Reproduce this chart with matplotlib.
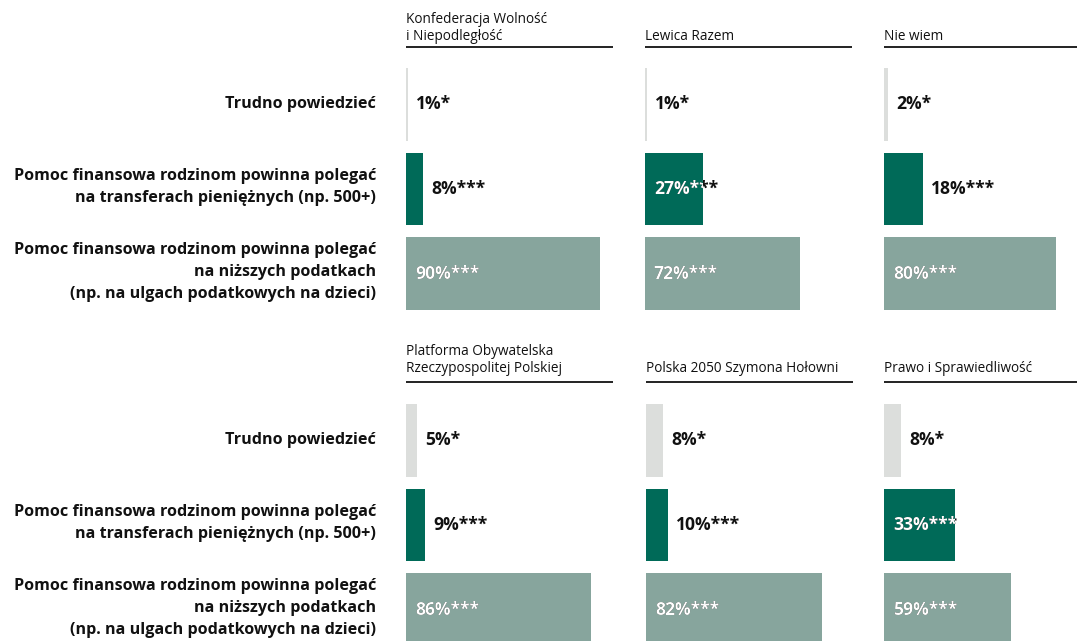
import matplotlib
matplotlib.use("Agg")
import matplotlib.pyplot as plt
from matplotlib.transforms import Bbox, TransformedBbox, offset_copy

plt.rcParams['font.family'] = ['Open Sans', 'DejaVu Sans']

parties = ["Konfederacja Wolność\ni Niepodległość", "Lewica Razem", "Nie wiem",
           "Platforma Obywatelska\nRzeczypospolitej Polskiej", "Polska 2050 Szymona Hołowni",
           "Prawo i Sprawiedliwość"]
categories = ["Trudno powiedzieć",
              "Pomoc finansowa rodzinom powinna polegać\nna transferach pieniężnych (np. 500+)",
              "Pomoc finansowa rodzinom powinna polegać\nna niższych podatkach\n(np. na ulgach podatkowych na dzieci)"]
trudno = [1, 1, 2, 5, 8, 8]
transfery = [8, 27, 18, 9, 10, 33]
podatki = [90, 72, 80, 86, 82, 59]
trudno_sig = ["*", "*", "*", "*", "*", "*"]
transfery_sig = ["***", "***", "***", "***", "***", "***"]
podatki_sig = ["***", "***", "***", "***", "***", "***"]

colors = ["#dcdedc", "#006a58", "#87a59d"]

W, H = 1077, 641
fig = plt.figure(figsize=(W / 100, H / 100), dpi=100)
fig.patch.set_facecolor("white")

col_left = [[406, 645, 884], [406, 646, 884]]
row_top = [68, 404]
ax_h = 242
ax_w = 215
scale = ax_w / 100.0
bar_h = 0.86

for i in range(6):
    r, c = divmod(i, 3)
    left = col_left[r][c]
    top = row_top[r]
    ax = fig.add_axes([left / W, (H - top - ax_h) / H, ax_w / W, ax_h / H])
    vals = [trudno[i], transfery[i], podatki[i]]
    sigs = [trudno_sig[i], transfery_sig[i], podatki_sig[i]]
    ypos = [0, 1, 2]
    ax.barh(ypos, vals, height=bar_h, color=colors, left=0, zorder=1)
    ax.set_xlim(0, 100)
    ax.set_ylim(2.43, -0.43)
    for s in ax.spines.values():
        s.set_visible(False)
    ax.set_xticks([])
    ax.set_yticks([])
    if c == 0:
        for y, cat in zip(ypos, categories):
            nl = cat.count("\n")
            tr = offset_copy(ax.get_yaxis_transform(), fig=fig, x=-30,
                             y=1.5 if nl else 0, units="dots")
            ax.text(0, y, cat, transform=tr, ha="right", va="center", fontsize=11.6,
                    fontweight="bold", color="#111111", linespacing=1.5)
    for y, v, s in zip(ypos, vals, sigs):
        label = f"{v}%{s}"
        if v >= 20:
            ax.text(9 / scale, y, label, color="#111111", fontsize=12.6, fontweight="bold",
                    va="center", ha="left", zorder=2)
            t = ax.text(9 / scale, y, label, color="white", fontsize=12.6, fontweight="bold",
                        va="center", ha="left", zorder=3)
            t.set_clip_path(None)
            t.set_clip_box(TransformedBbox(Bbox([[0, y - bar_h / 2], [v, y + bar_h / 2]]),
                                           ax.transData))
            t.set_clip_on(True)
        else:
            ax.text(v + 8 / scale, y, label, color="#111111", fontsize=12.6, fontweight="bold",
                    va="center", ha="left", zorder=2)
    ul = 21.5 if r == 0 else 22.5
    tb = 28 if r == 0 else 32
    ax.plot([0, 207 / ax_w], [1 + ul / ax_h] * 2, transform=ax.transAxes, color="#111111",
            lw=1.3, clip_on=False, solid_capstyle="butt")
    ax.text(0, 1 + tb / ax_h, parties[i], transform=ax.transAxes, ha="left", va="baseline",
            fontsize=9.8, color="#111111", linespacing=1.15)

fig.savefig("out.png", dpi=100, facecolor="white")
